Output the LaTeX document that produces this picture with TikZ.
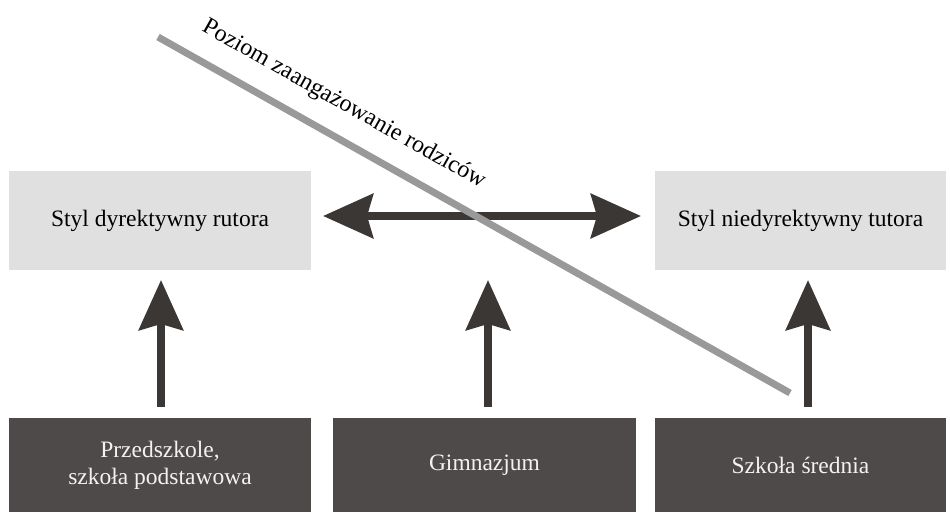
\documentclass[tikz,border=0pt]{standalone}
\usepackage{fontspec}
\setmainfont{Liberation Serif}
\usetikzlibrary{arrows.meta}
\definecolor{lightbox}{HTML}{E0E0E0}
\definecolor{darkbox}{HTML}{4E4A49}
\definecolor{arrowc}{HTML}{3B3735}
\definecolor{diag}{HTML}{999999}
\definecolor{boxtext}{HTML}{F2F2F2}
\begin{document}
\begin{tikzpicture}[x=1pt,y=-1pt,
  stylebox/.style={fill=lightbox, draw=none, minimum height=99pt, inner sep=0pt, font=\fontsize{23.5}{27}\selectfont, text=black},
  levelbox/.style={fill=darkbox, draw=none, minimum height=94pt, inner sep=0pt, align=center, font=\fontsize{23.5}{27}\selectfont, text=boxtext},
  bigarrow/.style={draw=arrowc, line width=8pt, -{Stealth[length=50pt, width=44pt, inset=6pt]}, fill=arrowc},
  botharrow/.style={draw=arrowc, line width=8pt, {Stealth[length=50pt, width=44pt, inset=6pt]}-{Stealth[length=50pt, width=44pt, inset=6pt]}, fill=arrowc}
]
\useasboundingbox (0,0) rectangle (950,513);
% top boxes
\node[stylebox, minimum width=302pt] (dir) at (160,220.5) {Styl dyrektywny rutora};
\node[stylebox, minimum width=291pt] (nondir) at (800.5,220.5) {Styl niedyrektywny tutora};
% bottom boxes
\node[levelbox, minimum width=302pt] (pre) at (160,465) {Przedszkole,\\szkoła podstawowa};
\node[levelbox, minimum width=303pt] (gim) at (484.5,465) {Gimnazjum};
\node[levelbox, minimum width=291pt] (sred) at (800.5,465) {Szkoła średnia};
% arrow end coordinates
\coordinate (a1s) at (161,407);
\coordinate (a1e) at (161,280);
\coordinate (a2s) at (488,407);
\coordinate (a2e) at (488,280);
\coordinate (a3s) at (808,407);
\coordinate (a3e) at (808,280);
\coordinate (hl) at (323,216);
\coordinate (hr) at (641,216);
\draw[bigarrow] (a1s) -- (a1e);
\draw[bigarrow] (a2s) -- (a2e);
\draw[bigarrow] (a3s) -- (a3e);
\draw[botharrow] (hl) -- (hr);
% diagonal line
\coordinate (d1) at (158,37);
\coordinate (d2) at (790,393);
\draw[diag, line width=7pt] (d1) -- (d2);
\node[anchor=base, rotate=-29.4, inner sep=0pt, font=\fontsize{24}{28}\selectfont] (lab) at (341,109.5) {Poziom zaangażowanie rodziców};
\end{tikzpicture}
\end{document}
